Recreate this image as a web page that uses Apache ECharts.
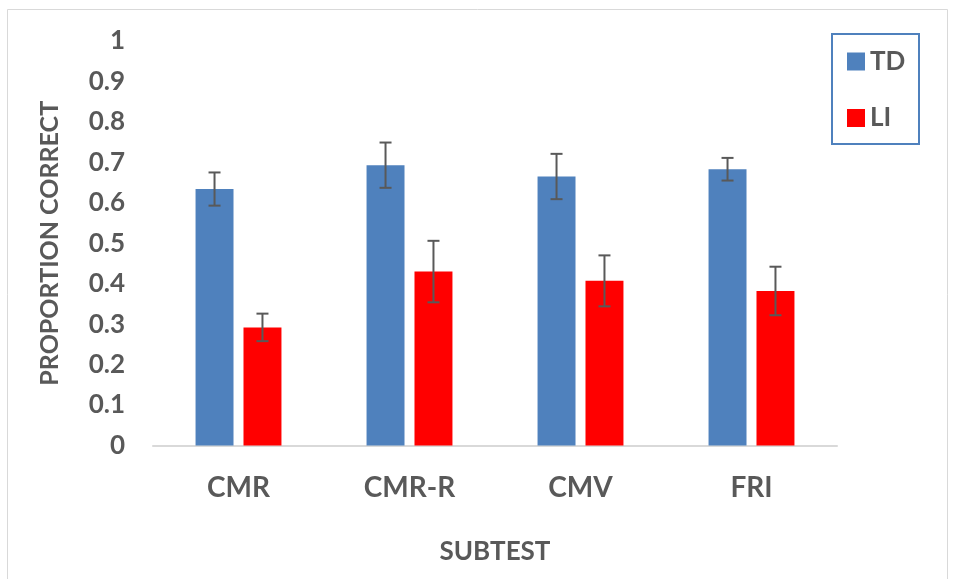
<!DOCTYPE html>
<html>
<head>
<meta charset="utf-8">
<script src="https://cdn.jsdelivr.net/npm/echarts@6/dist/echarts.min.js"></script>
<style>
html,body{margin:0;padding:0;background:#fff;}
#chart{width:956px;height:579px;}
</style>
</head>
<body>
<div id="chart"></div>
<script>
var categories = ['CMR', 'CMR-R', 'CMV', 'FRI'];
var seriesNames = ['TD', 'LI'];
var tdValues = [0.634, 0.693, 0.665, 0.683];
var tdErrors = [0.041, 0.056, 0.056, 0.028];
var liValues = [0.292, 0.430, 0.407, 0.382];
var liErrors = [0.034, 0.076, 0.063, 0.060];
var yTicks = ['0', '0.1', '0.2', '0.3', '0.4', '0.5', '0.6', '0.7', '0.8', '0.9', '1'];

var FONT = "Lato, 'Open Sans', sans-serif";
var TEXT = '#595959';
var BAR_W = 0.222;   // fraction of band
var BAR_GAP = 0.263; // fraction of bar width

function errData(vals, errs) {
  return vals.map(function (v, i) { return [i, v - errs[i], v + errs[i]]; });
}

function errSeries(name, vals, errs, side) {
  return {
    name: name,
    type: 'custom',
    z: 10,
    legendHoverLink: false,
    tooltip: {show: false},
    data: errData(vals, errs),
    renderItem: function (params, api) {
      var band = api.size([1, 0])[0];
      var off = side * band * BAR_W * (1 + BAR_GAP) / 2;
      var lo = api.coord([api.value(0), api.value(1)]);
      var hi = api.coord([api.value(0), api.value(2)]);
      var x = lo[0] + off;
      var cap = 6;
      var st = {stroke: '#595959', lineWidth: 2};
      return {
        type: 'group',
        children: [
          {type: 'line', shape: {x1: x, y1: lo[1], x2: x, y2: hi[1]}, style: st},
          {type: 'line', shape: {x1: x - cap, y1: lo[1], x2: x + cap, y2: lo[1]}, style: st},
          {type: 'line', shape: {x1: x - cap, y1: hi[1], x2: x + cap, y2: hi[1]}, style: st}
        ]
      };
    }
  };
}

var chart = echarts.init(document.getElementById('chart'));
chart.setOption({
  animation: false,
  backgroundColor: '#fff',
  textStyle: {fontFamily: FONT},
  graphic: [
    {type: 'rect', shape: {x: 7.5, y: 9.5, width: 940, height: 600}, style: {fill: 'none', stroke: '#d9d9d9', lineWidth: 1}, silent: true, z: -1},
    {type: 'rect', shape: {x: 832, y: 34, width: 87, height: 110}, style: {fill: 'none', stroke: '#4f81bd', lineWidth: 2}, silent: true}
  ],
  legend: {
    data: seriesNames,
    orient: 'vertical',
    left: 832,
    top: 34,
    padding: [14.5, 0, 0, 15],
    itemWidth: 18,
    itemHeight: 18,
    itemGap: 30.5,
    icon: 'rect',
    selectedMode: false,
    textStyle: {fontFamily: FONT, fontSize: 26, fontWeight: 'bold', color: TEXT}
  },
  grid: {left: 153, right: 119, top: 41, bottom: 133.5, containLabel: false, outerBoundsMode: 'none'},
  xAxis: {
    type: 'category',
    data: categories,
    name: 'SUBTEST',
    nameLocation: 'middle',
    nameGap: 93,
    nameTextStyle: {fontFamily: FONT, fontSize: 26, fontWeight: 'bold', color: TEXT},
    axisLine: {lineStyle: {color: '#d9d9d9', width: 2}},
    axisTick: {show: false},
    axisLabel: {fontFamily: FONT, fontSize: 28, fontWeight: 'bold', color: TEXT, margin: 28}
  },
  yAxis: {
    type: 'value',
    min: 0,
    max: 1,
    interval: 0.1,
    name: 'PROPORTION CORRECT',
    nameLocation: 'middle',
    nameRotate: 90,
    nameGap: 91,
    nameTextStyle: {fontFamily: FONT, fontSize: 25, fontWeight: 'bold', color: TEXT},
    axisLine: {show: false},
    axisTick: {show: false},
    splitLine: {show: false},
    axisLabel: {
      fontFamily: FONT, fontSize: 26, fontWeight: 'bold', color: TEXT, margin: 28,
      formatter: function (v) { return yTicks[Math.round(v * 10)]; }
    }
  },
  series: [
    {name: 'TD', type: 'bar', data: tdValues, barWidth: (BAR_W * 100) + '%', barGap: (BAR_GAP * 100) + '%', itemStyle: {color: '#4f81bd'}},
    {name: 'LI', type: 'bar', data: liValues, barWidth: (BAR_W * 100) + '%', barGap: (BAR_GAP * 100) + '%', itemStyle: {color: '#ff0000'}},
    errSeries('TD', tdValues, tdErrors, -1),
    errSeries('LI', liValues, liErrors, 1)
  ]
});
</script>
</body>
</html>
